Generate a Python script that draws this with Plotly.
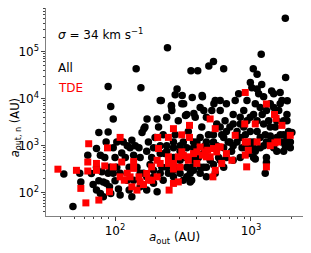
import plotly.graph_objects as go

# ---- data ----
all_x = [1790, 243, 1190, 530, 490, 143, 630, 362, 406, 1040, 1110, 1800, 990, 89, 155, 1200, 1110, 277, 215, 440, 594, 93, 260, 97, 76, 89, 204, 1850, 1640,
         286, 312, 320, 370, 437, 219, 260, 172, 163, 534, 450, 330, 380, 1420,
         42, 49, 56, 63, 67, 69, 73, 73, 76, 78, 80, 82, 84, 86, 89, 91, 93, 97, 100, 100, 103, 103, 106, 109, 112, 115, 119, 123, 127, 127, 129, 133, 137, 141, 145, 150, 153, 158, 162, 166, 171, 171, 176, 181, 186, 192, 197, 204, 209, 215, 221, 226, 232, 240, 240, 247, 254, 262, 269, 277, 284, 292, 301, 310, 318, 328, 337, 346, 357, 366, 378, 389, 400, 411, 423, 435, 447, 460, 470, 487, 501, 515, 530, 546, 560, 578, 594, 610, 630, 645, 660, 680, 700, 720, 740, 766, 790, 812, 834, 860, 885, 910, 935, 960, 988, 1015, 1045, 1076, 1110, 1140, 1170, 1210, 1240, 1274, 1300, 1350, 1387, 1430, 1470, 1510, 1550, 1600, 1643, 1690, 1740, 1789, 1840, 1890, 1947, 1740, 2000, 1274, 1300, 1045, 1076,
         137, 153, 171, 192, 215, 240, 269, 301, 337, 378, 423, 470, 530, 594, 660, 834, 935, 740, 337, 378, 447, 501, 560, 630, 700, 790, 885, 988, 1110, 1240, 1387, 1550, 1740, 1840, 1470, 1300, 1170, 1045, 215, 240, 269, 301, 269, 301, 337, 378, 423, 470, 530, 594, 660, 740, 834, 935, 1045, 1170, 1300, 1470, 1640, 1840,
         109, 123, 153, 192, 226, 269, 318, 357, 423, 546, 630, 740, 834, 908, 988, 1076, 1240, 1387, 1550, 1690, 1840, 1950, 86, 78, 73, 55, 91, 97, 82, 133, 366, 470, 192]
all_y = [510000, 120000, 87000, 61000, 49000, 43000, 43000, 39000, 39000, 43000, 33000, 28000, 22000, 18000, 17000, 20000, 16000, 12000, 9100, 11000, 9100, 6800, 6800, 3700, 1900, 1950, 3700, 9000, 13500,
         16000, 11600, 7800, 10500, 11600, 9100, 7100, 3700, 2300, 7800, 5600, 4400, 4800, 14500,
         250, 51, 170, 630, 257, 150, 870, 115, 180, 97, 280, 82, 560, 160, 260, 135, 97, 900, 560, 180, 350, 1200, 120, 90, 700, 1200, 560, 1000, 350, 115, 900, 1300, 630, 1000, 350, 900, 560, 1900, 260, 2500, 115, 760, 1200, 400, 560, 900, 1500, 105, 2500, 1000, 350, 1700, 680, 4000, 1000, 260, 560, 5600, 900, 1700, 350, 3400, 760, 7800, 1200, 560, 4600, 2000, 260, 185, 900, 4000, 1200, 560, 6500, 2500, 350, 1000, 4000, 1700, 490, 5600, 1200, 9100, 2900, 560, 5600, 1700, 900, 3400, 7800, 1200, 2500, 760, 4600, 9100, 1200, 12700, 2900, 900, 5600, 1700, 9100, 680, 4000, 17000, 1200, 7800, 2000, 12700, 900, 4600, 11000, 1700, 560, 3400, 7800, 1200, 12700, 2500, 760, 5600, 1700, 9100, 3400, 1000, 4600, 2000, 900, 760, 1900, 260, 440, 560, 760,
         185, 260, 218, 300, 260, 350, 300, 260, 218, 300, 260, 350, 400, 490, 560, 560, 1000, 490, 350, 490, 680, 900, 1000, 1500, 1200, 2000, 2500, 2000, 3400, 2900, 2500, 3400, 1700, 1200, 900, 1200, 1500, 900, 680, 760, 560, 490, 1200, 1000, 900, 1200, 1500, 1200, 1700, 2500, 2000, 2900, 4000, 3400, 4600, 6500, 5600, 6500, 7800, 3400,
         260, 185, 135, 160, 185, 218, 185, 170, 350, 260, 350, 1000, 1500, 900, 1200, 520, 1000, 1600, 1500, 1200, 1500, 1200, 1200, 630, 350, 260, 350, 260, 170, 82, 350, 218, 218]

tde_x = [38, 52, 56, 61, 76, 64, 88, 109, 63, 63, 73, 73, 84, 91, 97, 112, 117, 137, 109, 129, 133, 145, 153, 171, 186, 204, 186, 206, 209, 204, 247, 269, 247, 269, 250, 269, 292, 310, 353, 353, 292, 310, 340, 378, 400, 440, 423, 501, 546, 525, 546, 480, 530, 470, 578, 610, 660, 766, 724, 908, 900, 956, 940, 930, 908, 908, 1076, 1110, 1300, 1300, 1490, 1530, 1387, 1500, 1570, 1690, 1947,
         123, 150, 162, 176, 137, 269, 318, 346, 460, 501, 560, 594, 400, 215, 301, 247]
tde_y = [317, 300, 124, 61, 70, 1100, 900, 1500, 450, 290, 420, 300, 372, 105, 355, 450, 185, 460, 218, 218, 134, 114, 170, 257, 355, 218, 185, 1500, 870, 490, 1500, 2300, 580, 420, 114, 158, 170, 1700, 2700, 1500, 580, 740, 580, 680, 420, 630, 940, 3700, 2300, 218, 300, 800, 870, 580, 940, 420, 680, 1660, 490, 13500, 2900, 800, 1200, 355, 630, 1200, 2900, 1200, 7700, 355, 4600, 3800, 1000, 1150, 1200, 2700, 1660,
         260, 218, 150, 185, 330, 320, 620, 490, 740, 580, 740, 940, 740, 420, 350, 420]

x_tickvals = [100, 1000]
x_ticktext = ["10<sup>2</sup>", "10<sup>3</sup>"]
y_tickvals = [100, 1000, 10000, 100000]
y_ticktext = ["10<sup>2</sup>", "10<sup>3</sup>", "10<sup>4</sup>", "10<sup>5</sup>"]
x_minor = [40, 50, 60, 70, 80, 90, 200, 300, 400, 500, 600, 700, 800, 900, 2000]
y_minor = [m * 10 ** e for e in range(1, 6) for m in range(2, 10)]

FONT = "DejaVu Sans"

fig = go.Figure()
fig.add_trace(go.Scatter(x=all_x, y=all_y, mode="markers", name="All",
                         marker=dict(symbol="circle", size=7.5, color="black", line=dict(width=0))))
fig.add_trace(go.Scatter(x=tde_x, y=tde_y, mode="markers", name="TDE",
                         marker=dict(symbol="square", size=7, color="#ff0000", line=dict(width=0))))

axis_common = dict(type="log", showgrid=False, zeroline=False, showline=True, mirror=True, automargin=False,
                   linecolor="#808080", linewidth=1.2, ticks="outside", ticklen=3.5, tickwidth=1,
                   tickcolor="#444444", tickfont=dict(family=FONT, size=12, color="black"))

fig.update_xaxes(**axis_common, range=[1.492, 3.383], tickmode="array", tickvals=x_tickvals, ticktext=x_ticktext,
                 minor=dict(tickmode="array", tickvals=x_minor, ticks="outside", ticklen=2, tickcolor="#444444"))
fig.update_yaxes(**axis_common, range=[1.507, 5.924], tickmode="array", tickvals=y_tickvals, ticktext=y_ticktext,
                 minor=dict(tickmode="array", tickvals=y_minor, ticks="outside", ticklen=2, tickcolor="#444444"))

# axis titles
fig.add_annotation(xref="paper", yref="paper", x=0.499, y=-0.105, xanchor="center", yanchor="middle", showarrow=False,
                   text="<i>a</i><sub>out</sub> (AU)", font=dict(family=FONT, size=12, color="black"))
fig.add_annotation(xref="paper", yref="paper", x=-0.121, y=0.426, xanchor="center", yanchor="middle", showarrow=False,
                   textangle=-90, borderpad=0, text="<i>a</i><sub>out, n</sub> (AU)", font=dict(family=FONT, size=11.5, color="black"))

fig.add_annotation(xref="paper", yref="paper", x=0.04, y=0.876, xanchor="left", yanchor="middle", showarrow=False,
                   text="<i>σ</i> = 34 km s<sup>−1</sup>", font=dict(family=FONT, size=12, color="black"))
fig.add_annotation(xref="paper", yref="paper", x=0.04, y=0.713, xanchor="left", yanchor="middle", showarrow=False,
                   text="All", font=dict(family=FONT, size=12, color="black"))
fig.add_annotation(xref="paper", yref="paper", x=0.04, y=0.617, xanchor="left", yanchor="middle", showarrow=False,
                   text="TDE", font=dict(family=FONT, size=12, color="#ff0000"))

# the page body adds an 8 px margin, so the figure is sized to fit inside the window
fig.update_layout(width=295, height=237, margin=dict(l=38, r=0, t=0, b=29),
                  paper_bgcolor="white", plot_bgcolor="white", showlegend=False,
                  font=dict(family=FONT, size=12, color="black"))

fig.write_html("out.html")
